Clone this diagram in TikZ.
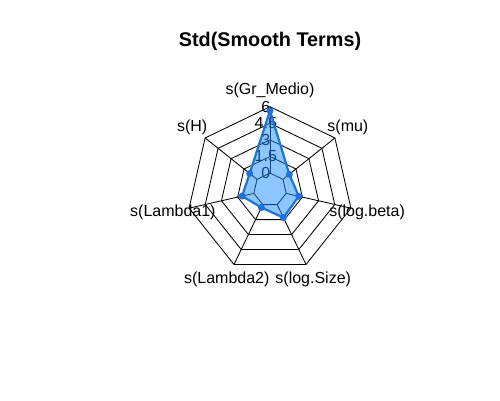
\documentclass[tikz,border=0pt]{standalone}
\usepackage{fontspec}
\setmainfont{Liberation Sans}
\definecolor{seriesline}{RGB}{26,115,224}
\definecolor{seriesfill}{RGB}{30,144,255}
\begin{document}
\begin{tikzpicture}[x=1pt,y=1pt,
  gridline/.style={draw=black, line width=0.85pt},
  axlab/.style={font=\fontsize{16}{16}\selectfont, text=black, inner sep=0pt},
  varlab/.style={font=\fontsize{16}{16}\selectfont, inner sep=0pt},
  series/.style={draw=seriesline, line width=2.2pt, fill=seriesfill, fill opacity=0.5, line join=round},
  dot/.style={circle, fill=seriesline, inner sep=0pt, minimum size=7pt},
  titlestyle/.style={font=\bfseries\fontsize{19.8}{19.8}\selectfont, anchor=base, inner sep=0pt}]
\useasboundingbox (0,0) rectangle (500,400);
\fill[white] (0,0) rectangle (500,400);
\node[titlestyle] (title) at (270,353) {Std(Smooth Terms)};
\begin{scope}[shift={(270,210.3)}]
  % rings
  \foreach \i in {1,...,5} {
    \draw[gridline] (90:{\i*16.6}) \foreach \k in {1,...,6} { -- ({90+\k*360/7}:{\i*16.6}) } -- cycle;
  }
  % spokes
  \foreach \k in {0,...,6} {
    \draw[gridline] ({90+\k*360/7}:16.6) -- ({90+\k*360/7}:83);
  }
  % axis value labels
  \node[axlab] (t0) at (-4.15,16.6) {0};
  \node[axlab] (t1) at (-4.15,33.2) {1.5};
  \node[axlab] (t2) at (-4.15,49.8) {3};
  \node[axlab] (t3) at (-4.15,66.4) {4.5};
  \node[axlab] (t4) at (-4.15,83.0) {6};
  % variable labels
  \node[varlab] (lGr) at (90:99.6) {s(Gr\_Medio)};
  \node[varlab] (lH) at ({90+360/7}:99.6) {s(H)};
  \node[varlab] (lL1) at ({90+2*360/7}:99.6) {s(Lambda1)};
  \node[varlab] (lL2) at ({90+3*360/7}:99.6) {s(Lambda2)};
  \node[varlab] (lS) at ({90+4*360/7}:99.6) {s(log.Size)};
  \node[varlab] (lB) at ({90+5*360/7}:99.6) {s(log.beta)};
  \node[varlab] (lMu) at ({90+6*360/7}:99.6) {s(mu)};
  % data
  \coordinate (pGr) at (90:79.0);
  \coordinate (pH) at ({90+360/7}:26.0);
  \coordinate (pL1) at ({90+2*360/7}:28.6);
  \coordinate (pL2) at ({90+3*360/7}:19.8);
  \coordinate (pS) at ({90+4*360/7}:31.0);
  \coordinate (pB) at ({90+5*360/7}:29.5);
  \coordinate (pMu) at ({90+6*360/7}:24.7);
  \draw[series] (pGr) -- (pH) -- (pL1) -- (pL2) -- (pS) -- (pB) -- (pMu) -- cycle;
  \node[dot] (dGr) at (pGr) {};
  \node[dot] (dH) at (pH) {};
  \node[dot] (dL1) at (pL1) {};
  \node[dot] (dL2) at (pL2) {};
  \node[dot] (dS) at (pS) {};
  \node[dot] (dB) at (pB) {};
  \node[dot] (dMu) at (pMu) {};
\end{scope}
\end{tikzpicture}
\end{document}
